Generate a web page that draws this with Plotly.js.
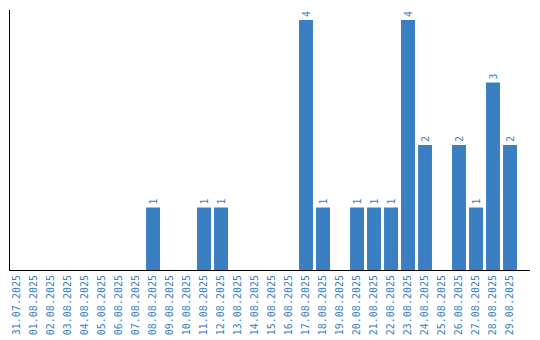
<!DOCTYPE html>
<html><head><meta charset="utf-8">
<script src="https://cdn.plot.ly/plotly-3.0.1.min.js"></script>
<style>html,body{margin:0;padding:0;background:#fff}#c{width:540px;height:340px}</style>
</head><body><div id="c"></div>
<script>
const dates = ["31.07.2025","01.08.2025","02.08.2025","03.08.2025","04.08.2025","05.08.2025","06.08.2025","07.08.2025","08.08.2025","09.08.2025","10.08.2025","11.08.2025","12.08.2025","13.08.2025","14.08.2025","15.08.2025","16.08.2025","17.08.2025","18.08.2025","19.08.2025","20.08.2025","21.08.2025","22.08.2025","23.08.2025","24.08.2025","25.08.2025","26.08.2025","27.08.2025","28.08.2025","29.08.2025"];
const counts = [0,0,0,0,0,0,0,0,1,0,0,1,1,0,0,0,0,4,1,0,1,1,1,4,2,0,2,1,3,2];
const labels = counts.map(v => v > 0 ? String(v) : "");
const blue = "#3a7fc1";
Plotly.newPlot("c", [{
  type: "bar", x: dates, y: counts, text: labels,
  textposition: "outside", textangle: -90, cliponaxis: false,
  textfont: {family: "DejaVu Sans Mono", size: 10, color: blue},
  marker: {color: blue}, width: 0.82, hoverinfo: "none"
}], {
  width: 540, height: 340,
  margin: {l: 10, r: 10, t: 10, b: 70},
  paper_bgcolor: "#fff", plot_bgcolor: "#fff",
  showlegend: false,
  xaxis: {type: "category", range: [-0.412, 30.176], tickangle: -90, showline: true, linecolor: "#000", linewidth: 1,
    ticks: "", showgrid: false, zeroline: false,
    tickfont: {family: "DejaVu Sans Mono", size: 10, color: blue}},
  yaxis: {range: [0, 4.16], showline: true, linecolor: "#000", linewidth: 1, showticklabels: false,
    ticks: "", showgrid: false, zeroline: false}
}, {displayModeBar: false, staticPlot: true});
</script></body></html>
